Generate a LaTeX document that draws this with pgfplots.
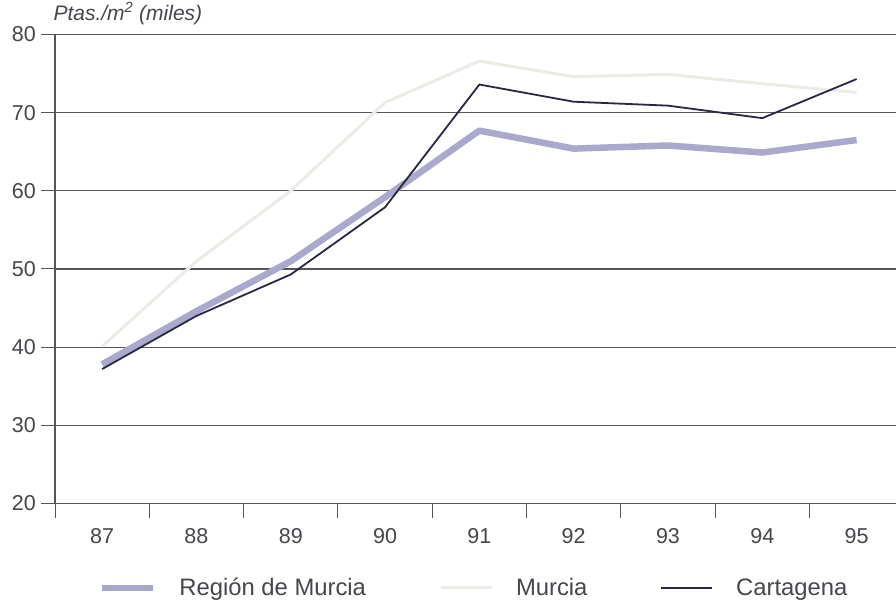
\documentclass[border=0pt]{standalone}
\usepackage{pgfplots}
\pgfplotsset{compat=1.18}
\usepackage{fontspec}
\setmainfont{Liberation Sans}
\definecolor{region}{RGB}{170,168,204}
\definecolor{murcia}{RGB}{236,236,230}
\definecolor{carta}{RGB}{40,40,66}
\definecolor{gridc}{RGB}{85,85,90}
\definecolor{txt}{RGB}{70,70,76}
\begin{document}
\begin{tikzpicture}
\useasboundingbox[fill=white] (0,0) rectangle (896bp,600bp);
\begin{axis}[
  at={(55bp,96.5bp)}, anchor=south west,
  scale only axis, width=841bp, height=469bp,
  xmin=-0.5, xmax=8.418, ymin=20, ymax=80,
  axis x line*=bottom, axis y line*=left,
  axis line style={gridc, line width=1.3bp},
  xtick={-0.5,0.5,...,7.5}, xticklabels={},
  extra x ticks={0,1,2,3,4,5,6,7,8},
  extra x tick labels={87,88,89,90,91,92,93,94,95},
  extra x tick style={major tick length=0pt, grid=none,
     tick label style={anchor=north, inner sep=0pt, yshift=-25bp}},
  ytick={20,30,...,80},
  ymajorgrids, grid style={gridc, line width=1.3bp},
  tick align=outside, major tick length=14bp,
  tick style={gridc, line width=1bp},
  yticklabel style={anchor=east, inner sep=0pt, xshift=-5bp},
  tick label style={font=\fontsize{21.5bp}{24bp}\selectfont, text=txt},
  /pgf/number format/assume math mode=true,
  clip=false,
  legend columns=3,
  legend style={at={(rel axis cs:0.0523,-0.180)}, anchor=west, draw=none, fill=none,
    inner sep=0pt, outer sep=0pt,
    font=\fontsize{23.8bp}{26bp}\selectfont, text=txt,
    nodes={inner sep=0pt},
    /tikz/every odd column/.append style={column sep=23bp},
    /tikz/every even column/.append style={column sep=73bp}},
  legend image code/.code={\draw[#1] (0bp,0bp) -- (51bp,0bp);},
]
\addplot[region, line width=6.5bp, line join=round] coordinates {
 (0,37.8) (1,44.6) (2,51.0) (3,59.2) (4,67.7) (5,65.4) (6,65.8) (7,64.9) (8,66.5)};
\addlegendentry{Región de Murcia}
\addplot[murcia, line width=3bp, line join=round] coordinates {
 (0,40.1) (1,51.0) (2,60.0) (3,71.3) (4,76.6) (5,74.6) (6,74.9) (7,73.7) (8,72.6)};
\addlegendentry{Murcia}
\addplot[carta, line width=1.8bp, line join=round] coordinates {
 (0,37.2) (1,44.0) (2,49.3) (3,57.9) (4,73.6) (5,71.4) (6,70.9) (7,69.3) (8,74.3)};
\addlegendentry{Cartagena}
\node[anchor=base west, inner sep=0pt, text=txt, font=\fontsize{21bp}{24bp}\selectfont\itshape]
  at (rel axis cs:-0.002,1.030) {Ptas./m\textsuperscript{2} (miles)};
\end{axis}
\end{tikzpicture}
\end{document}
